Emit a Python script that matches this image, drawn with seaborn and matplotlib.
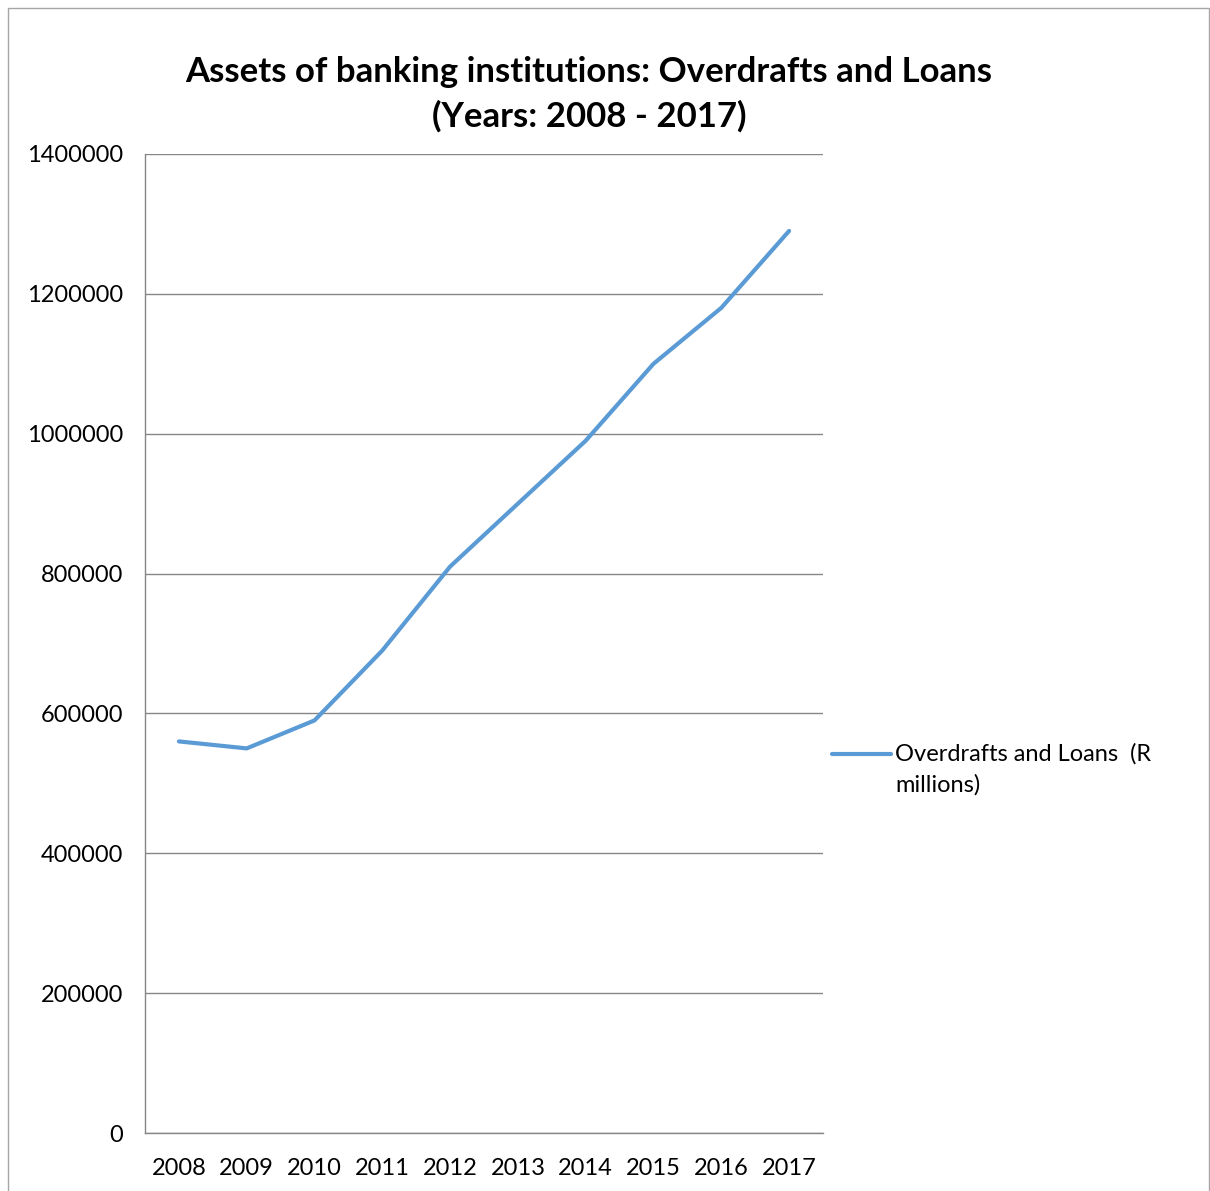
import matplotlib
matplotlib.use("Agg")
import matplotlib.pyplot as plt
import seaborn as sns
import pandas as pd
import numpy as np
from matplotlib.patches import Rectangle
from matplotlib.legend_handler import HandlerLine2D
from matplotlib.lines import Line2D

years = ["2008", "2009", "2010", "2011", "2012", "2013", "2014", "2015", "2016", "2017"]
values = [560000, 550000, 590000, 690000, 810000, 900000, 990000, 1100000, 1180000, 1290000]
series_name = "Overdrafts and Loans  (R\nmillions)"
yticks = [0, 200000, 400000, 600000, 800000, 1000000, 1200000, 1400000]

sns.set_theme(style="white")
plt.rcParams['font.family'] = ['Lato', 'DejaVu Sans']
plt.rcParams['text.color'] = 'black'
plt.rcParams['xtick.color'] = 'black'
plt.rcParams['ytick.color'] = 'black'

df = pd.DataFrame({"pos": np.arange(len(years)), "value": values, "series": series_name})

fig = plt.figure(figsize=(12.10, 11.91), dpi=100)
ax = fig.add_axes([145/1210, 1 - 1133/1191, (823-145)/1210, (1133-154)/1191])

sns.lineplot(data=df, x="pos", y="value", hue="series", palette=["#5B9BD5"],
             linewidth=3, ax=ax)

ax.set_xlim(-0.5, len(years) - 0.5)
ax.set_ylim(0, 1400000)
ax.set_yticks(yticks)
ax.set_yticklabels([str(v) for v in yticks], fontsize=17)
ax.set_xticks(np.arange(-0.5, len(years)), minor=False)
ax.set_xticklabels([])
ax.set_xticks(np.arange(len(years)), minor=True)
ax.set_xticklabels(years, minor=True, fontsize=17)
ax.tick_params(axis="x", which="major", length=7, width=1, color="#868686", direction="out")
ax.tick_params(axis="x", which="minor", length=0, pad=18)
ax.tick_params(axis="y", length=7, width=1, color="#868686", direction="out", pad=9)
ax.set_xlabel("")
ax.set_ylabel("")
ax.grid(axis="y", color="#868686", linewidth=1)
ax.set_axisbelow(True)
for s in ["top", "right"]:
    ax.spines[s].set_visible(False)
for s in ["left", "bottom"]:
    ax.spines[s].set_color("#868686")
    ax.spines[s].set_linewidth(1)

ax.set_title("Assets of banking institutions: Overdrafts and Loans\n(Years: 2008 - 2017)",
             fontsize=25, fontweight="bold", pad=20, x=0.655, linespacing=1.45,
             color="black")


class TopLineHandler(HandlerLine2D):
    def create_artists(self, legend, orig_handle, xdescent, ydescent, width,
                       height, fontsize, trans):
        arts = super().create_artists(legend, orig_handle, xdescent, ydescent,
                                      width, height, fontsize, trans)
        for a in arts:
            if isinstance(a, Line2D):
                a.set_ydata(np.asarray(a.get_ydata()) + 11.5)
        return arts


handles, labels = ax.get_legend_handles_labels()
leg = ax.legend(handles, labels, loc="upper left", bbox_to_anchor=(1.0, 0.408),
                frameon=False, fontsize=17, handlelength=2.5, handletextpad=0.15,
                borderaxespad=0.0, handler_map={Line2D: TopLineHandler()})
for t in leg.get_texts():
    t.set_linespacing(1.55)
    t.set_color("black")

fig.patches.append(Rectangle((8/1210, -0.01), (1209-8)/1210, 1 - 8/1191 + 0.01,
                             transform=fig.transFigure, fill=False,
                             edgecolor="#A6A6A6", linewidth=1))

fig.savefig("out.png", dpi=100)
